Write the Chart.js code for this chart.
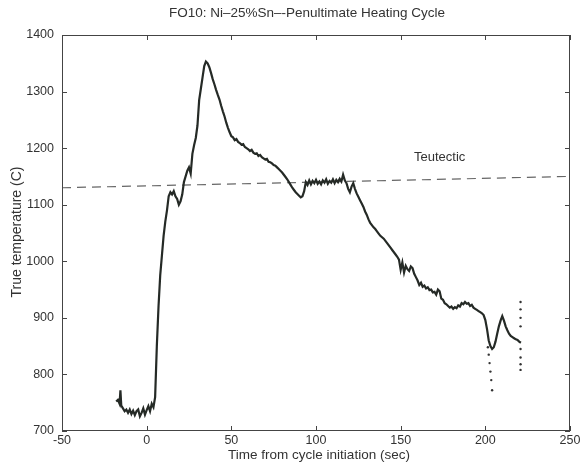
<!DOCTYPE html>
<html><head><meta charset="utf-8">
<script src="https://cdn.jsdelivr.net/npm/chart.js@4/dist/chart.umd.min.js"></script>
<style>html,body{margin:0;padding:0;background:#fff}#wrap{width:580px;height:466px}</style>
</head><body><div id="wrap"><canvas id="c" width="580" height="466"></canvas></div>
<script>
const chartTitle = "FO10: Ni\u201325%Sn\u2013-Penultimate Heating Cycle";
const xAxisLabel = "Time from cycle initiation (sec)";
const yAxisLabel = "True temperature (C)";
const xTicks = [-50, 0, 50, 100, 150, 200, 250];
const yTicks = [700, 800, 900, 1000, 1100, 1200, 1300, 1400];

const timeSec = [-18,-17,-16,-15.5,-15,-14,-13,-12,-11,-10,-9,-8,-7,-6,-5,-4,-3,-2,-1,0,1,2,3,4,5,
 6,7,8,9,10,11,12,13,14,15,16,17,18,19,20,21,22,23,24,25,26,27,28,29,30,31,32,33,34,35,36,37,38,39,40,
 41,42,43,44,45,46,47,48,49,50,51,52,53,54,55,56,57,58,59,60,61,62,63,64,65,66,67,68,69,70,
 71,72,73,74,75,76,77,78,79,80,81,82,83,84,85,86,87,88,89,90,91,92,93,94,
 95,96,97,98,99,100,101,102,103,104,105,106,107,108,109,110,111,112,113,114,115,116,117,118,119,120,
 121,122,123,124,125,126,127,128,129,130,131,132,133,134,135,136,137,138,140,142,143,144,145,146,147,
 148,149,150,151,152,153,154,155,156,157,158,159,160,161,162,163,164,165,166,167,168,169,170,171,172,173,
 174,175,176,177,178,179,180,181,182,183,184,185,186,187,188,189,190,191,192,193,194,195,196,197,198,199,
 200,201,202,203,204,205,206,207,208,209,210,211,212,213,214,215,216,217,218,219,220,221];
const tempC = [752,755,748,772,745,740,735,738,732,738,730,736,728,735,738,726,732,740,729,737,744,735,748,742,760,
 850,920,975,1010,1045,1070,1090,1115,1122,1118,1124,1115,1110,1100,1106,1118,1140,1150,1160,1166,1155,1190,1205,1218,1240,1285,1305,1325,1345,1353,1350,1343,1333,1322,1313,
 1303,1294,1286,1275,1265,1256,1245,1236,1228,1221,1219,1214,1216,1211,1209,1206,1207,1202,1200,1198,1195,1197,1192,1190,1191,1186,1188,1184,1182,1180,
 1181,1176,1175,1173,1170,1169,1166,1163,1160,1157,1153,1149,1145,1140,1135,1130,1126,1122,1119,1116,1113,1115,1124,1140,
 1135,1143,1136,1142,1138,1144,1137,1141,1136,1143,1139,1145,1137,1142,1139,1145,1138,1144,1140,1146,1141,1153,1143,1138,1128,1122,
 1132,1138,1128,1120,1114,1108,1102,1096,1088,1082,1074,1068,1064,1060,1057,1053,1049,1045,1040,1032,1028,1024,1020,1016,1012,
 1008,1003,985,998,980,992,986,983,991,988,978,972,966,958,962,955,957,952,954,949,950,945,946,941,950,947,
 934,932,926,924,921,918,920,916,919,917,922,920,926,924,928,925,926,921,923,918,916,914,912,910,908,905,
 896,880,860,850,845,848,858,872,885,895,903,895,885,878,872,868,866,864,862,861,858,856];

const dotTime = [201.5,202,202.5,203,203.5,204,220.8,220.8,220.8,220.8,220.8,220.8,220.8,220.8];
const dotTemp = [848,835,820,805,790,772,928,915,900,885,845,830,818,808];

const eutecticTime = [-50, 250];
const eutecticTemp = [1130, 1150];
const eutecticLabel = "Teutectic";
const eutecticLabelPos = [173, 1183];

const FONT = "'Liberation Sans', Arial, Helvetica, sans-serif";
const mainPts = timeSec.map((t,i)=>({x:t,y:tempC[i]}));
const dotPts = dotTime.map((t,i)=>({x:t,y:dotTemp[i]}));
const eutPts = eutecticTime.map((t,i)=>({x:t,y:eutecticTemp[i]}));

const boxPlugin = {
  id:'box',
  afterDraw(chart){
    const {ctx, chartArea:a, scales:{x,y}} = chart;
    ctx.save();
    ctx.strokeStyle = '#444'; ctx.lineWidth = 1;
    ctx.strokeRect(a.left+0.5, a.top+0.5, a.right-a.left-1, a.bottom-a.top-1);
    ctx.beginPath();
    xTicks.forEach(v=>{const p=Math.round(x.getPixelForValue(v))+0.5;
      ctx.moveTo(p,a.bottom); ctx.lineTo(p,a.bottom-5);
      ctx.moveTo(p,a.top); ctx.lineTo(p,a.top+5);});
    yTicks.forEach(v=>{const p=Math.round(y.getPixelForValue(v))+0.5;
      ctx.moveTo(a.left,p); ctx.lineTo(a.left+5,p);
      ctx.moveTo(a.right,p); ctx.lineTo(a.right-5,p);});
    ctx.stroke();
    ctx.fillStyle = '#333';
    ctx.textAlign = 'center'; ctx.textBaseline = 'middle';
    ctx.font = '13px ' + FONT;
    ctx.fillText(eutecticLabel, x.getPixelForValue(eutecticLabelPos[0]), y.getPixelForValue(eutecticLabelPos[1]));
    ctx.font = '13.5px ' + FONT;
    ctx.fillText(chartTitle, 307, 13);
    ctx.fillText(xAxisLabel, 319, 455);
    ctx.translate(17, 232); ctx.rotate(-Math.PI/2);
    ctx.font = '14px ' + FONT;
    ctx.fillText(yAxisLabel, 0, 0);
    ctx.restore();
  }
};

new Chart(document.getElementById('c'), {
  type:'line',
  data:{datasets:[
    {data:mainPts, borderColor:'#252a26', borderWidth:2.2, pointRadius:0, tension:0, fill:false},
    {data:dotPts, showLine:false, pointRadius:1.2, pointBackgroundColor:'#333', pointBorderWidth:0},
    {data:eutPts, borderColor:'#666', borderWidth:1.2, borderDash:[9,6], pointRadius:0, fill:false}
  ]},
  options:{
    responsive:false, animation:false, devicePixelRatio:1,
    layout:{padding:{left:0,right:10,top:35,bottom:0}},
    plugins:{legend:{display:false}, tooltip:{enabled:false}, title:{display:false}},
    scales:{
      x:{type:'linear', min:-50, max:250,
        afterBuildTicks(s){s.ticks = xTicks.map(v=>({value:v}));},
        afterFit(s){s.height = 35; s.paddingLeft = 0; s.paddingRight = 0;},
        grid:{display:false, drawTicks:false}, border:{display:false},
        ticks:{color:'#333', padding:2, maxRotation:0, font:{family:FONT,size:12.5}, callback:v=>String(v)},
        title:{display:false}},
      y:{type:'linear', min:700, max:1400,
        afterBuildTicks(s){s.ticks = yTicks.map(v=>({value:v}));},
        afterFit(s){s.width = 62; s.paddingTop = 0; s.paddingBottom = 0;},
        grid:{display:false, drawTicks:false}, border:{display:false},
        ticks:{color:'#333', padding:8, font:{family:FONT,size:12.5}, callback:v=>String(v)},
        title:{display:false}}
    }
  },
  plugins:[boxPlugin]
});
</script></body></html>
